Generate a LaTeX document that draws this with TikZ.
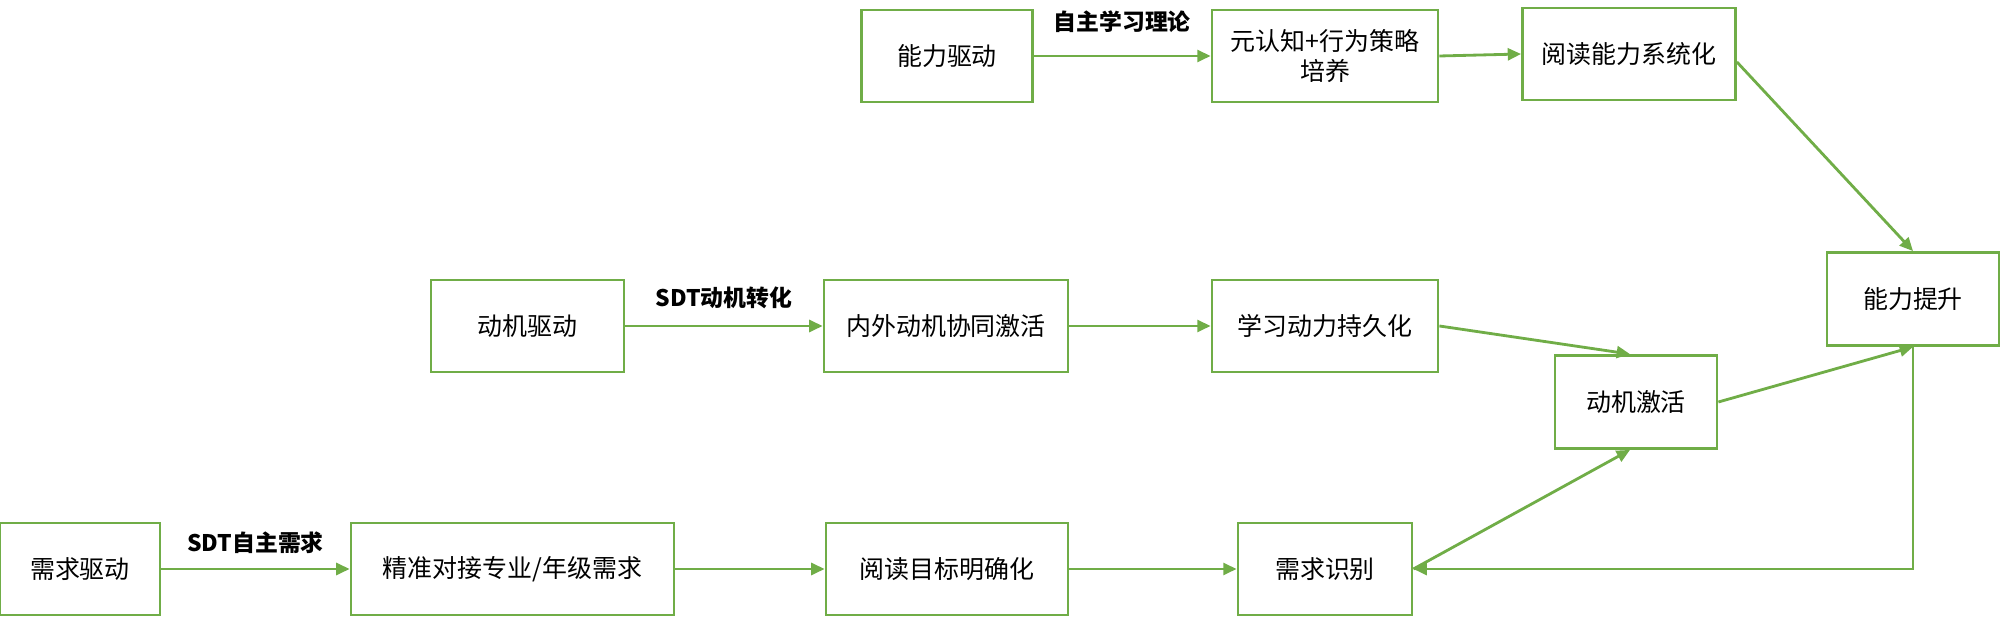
\documentclass[tikz,border=0pt]{standalone}
\usepackage{fontspec}
\setmainfont{Noto Sans CJK SC}
\usetikzlibrary{arrows.meta}
\definecolor{boxgreen}{RGB}{112,173,71}

\begin{document}
\begin{tikzpicture}[
    blk/.style={draw=boxgreen,line width=0.8pt,minimum height=0.92cm,inner sep=0pt,align=center,font=\fontsize{7.1pt}{8.6pt}\selectfont},
    arr/.style={draw=boxgreen,line width=0.8pt,-{Triangle[length=3.8pt,width=3.4pt]}},
    lbl/.style={inner sep=0pt,font=\fontsize{6.5pt}{7.8pt}\selectfont\bfseries}
]
            \useasboundingbox (0,0) rectangle (20,6.18);
            \node[blk,minimum width=1.71cm] (ability) at (9.47,5.62) {能力驱动};
            \node[blk,minimum width=2.26cm] (meta) at (13.25,5.62) {元认知+行为策略\\培养};
            \node[blk,minimum width=2.13cm] (readsys) at (16.29,5.64) {阅读能力系统化};
            \node[blk,minimum width=1.72cm,minimum height=0.93cm] (improve) at (19.13,3.19) {能力提升};
            \node[blk,minimum width=1.93cm] (motive) at (5.275,2.92) {动机驱动};
            \node[blk,minimum width=2.44cm] (inout) at (9.46,2.92) {内外动机协同激活};
            \node[blk,minimum width=2.26cm] (persist) at (13.25,2.92) {学习动力持久化};
            \node[blk,minimum width=1.62cm,minimum height=0.93cm] (activate) at (16.36,2.16) {动机激活};
            \node[blk,minimum width=1.60cm] (need) at (0.80,0.49) {需求驱动};
            \node[blk,minimum width=3.23cm] (precise) at (5.125,0.49) {精准对接专业/年级需求};
            \node[blk,minimum width=2.42cm] (goal) at (9.47,0.49) {阅读目标明确化};
            \node[blk,minimum width=1.74cm] (identify) at (13.25,0.49) {需求识别};
            \draw[arr] (ability.east) -- node[lbl,above=0.22cm] {自主学习理论} (meta.west);
            \draw[arr] (meta.east) -- (readsys.west);
            \draw[arr] ([yshift=-0.08cm]readsys.east) -- (improve.north);
            \draw[arr] (motive.east) -- node[lbl,above=0.16cm] {SDT动机转化} (inout.west);
            \draw[arr] (inout.east) -- (persist.west);
            \draw[arr] (persist.east) -- ([xshift=-0.06cm]activate.north);
            \draw[arr] (activate.east) -- (improve.south);
            \draw[arr] (need.east) -- node[lbl,above=0.14cm] {SDT自主需求} (precise.west);
            \draw[arr] (precise.east) -- (goal.west);
            \draw[arr] (goal.east) -- (identify.west);
            \draw[arr] (identify.east) -- ([xshift=-0.06cm]activate.south);
            \draw[arr] (improve.south) |- (identify.east);
        \end{tikzpicture}
\end{document}
